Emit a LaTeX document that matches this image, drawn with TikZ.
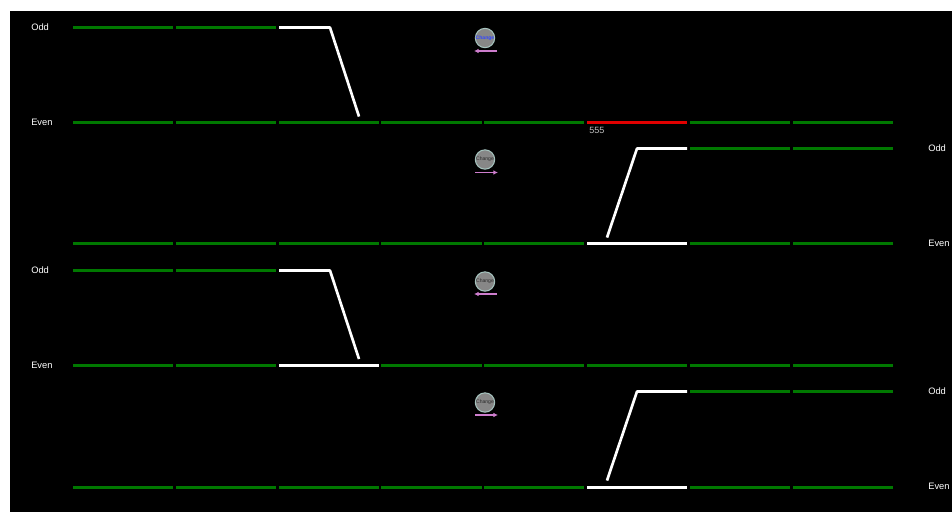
\documentclass[tikz,border=0pt]{standalone}
\usepackage{fontspec}
\setmainfont{Liberation Sans}
\usetikzlibrary{arrows.meta}
\definecolor{trackgreen}{RGB}{0,120,0}
\definecolor{trackred}{RGB}{225,0,0}
\definecolor{pinkarrow}{RGB}{205,125,205}
\definecolor{ringcol}{RGB}{165,195,190}
\definecolor{discfill}{RGB}{135,135,135}
\definecolor{changeblue}{RGB}{50,70,255}
\definecolor{labelgrey}{RGB}{190,190,190}
\tikzset{
  x=0.75pt,y=-0.75pt,
  greentrack/.style={draw=trackgreen,line width=2pt},
  whitetrack/.style={draw=white,line width=2pt},
  redtrack/.style={draw=trackred,line width=2pt},
  sidelabel/.style={text=white,font=\fontsize{7}{8}\selectfont,inner sep=0pt,anchor=west},
  changedisc/.style={circle,draw=ringcol,line width=0.8pt,fill=discfill,minimum size=14.5pt,inner sep=0pt,font=\fontsize{3.8}{4}\selectfont},
  movearrow/.style={draw=pinkarrow,line width=1.1pt,-{Latex[length=3.5pt,width=3.5pt]}},
}
\begin{document}
\begin{tikzpicture}
\useasboundingbox (0,0) rectangle (952,512);
\fill[white] (0,0) rectangle (952,512);
\fill[black] (10,11) rectangle (952,512);
% Row 1
\foreach \a/\b in {73/173,176/276} \draw[greentrack] (\a,27.5) -- (\b,27.5);
\foreach \a/\b in {73/173,176/276,279/379,381/482,484/584,690/790,793/893} \draw[greentrack] (\a,122.5) -- (\b,122.5);
\draw[redtrack] (587,122.5) -- (687,122.5);
\draw[whitetrack,line join=round] (279,27.5) -- (330,27.5) -- (359,116.5);
% Row 2
\foreach \a/\b in {690/790,793/893} \draw[greentrack] (\a,148.5) -- (\b,148.5);
\foreach \a/\b in {73/173,176/276,279/379,381/482,484/584,690/790,793/893} \draw[greentrack] (\a,243.5) -- (\b,243.5);
\draw[whitetrack] (587,243.5) -- (687,243.5);
\draw[whitetrack,line join=round] (687,148.5) -- (637,148.5) -- (607,237.5);
% Row 3
\foreach \a/\b in {73/173,176/276} \draw[greentrack] (\a,270.5) -- (\b,270.5);
\foreach \a/\b in {73/173,176/276,381/482,484/584,587/687,690/790,793/893} \draw[greentrack] (\a,365.5) -- (\b,365.5);
\draw[whitetrack] (279,365.5) -- (379,365.5);
\draw[whitetrack,line join=round] (279,270.5) -- (330,270.5) -- (359,359);
% Row 4
\foreach \a/\b in {690/790,793/893} \draw[greentrack] (\a,391.5) -- (\b,391.5);
\foreach \a/\b in {73/173,176/276,279/379,381/482,484/584,690/790,793/893} \draw[greentrack] (\a,487.5) -- (\b,487.5);
\draw[whitetrack] (587,487.5) -- (687,487.5);
\draw[whitetrack,line join=round] (687,391.5) -- (637,391.5) -- (607,480.5);
% labels
\node[sidelabel] (oddA) at (31,27) {Odd};
\node[sidelabel] (evenA) at (31,122) {Even};
\node[sidelabel] (oddB) at (928,148) {Odd};
\node[sidelabel] (evenB) at (928,243.5) {Even};
\node[sidelabel] (oddC) at (31,270) {Odd};
\node[sidelabel] (evenC) at (31,365) {Even};
\node[sidelabel] (oddD) at (928,391) {Odd};
\node[sidelabel] (evenD) at (928,486.5) {Even};
\node[text=labelgrey,font=\fontsize{6.8}{8}\selectfont,inner sep=0pt,anchor=west] (num) at (589,130) {555};
% change discs
\node[changedisc,text=changeblue] (chA) at (485,38) {\bfseries Change};
\node[changedisc,text=black!70!discfill] (chB) at (485,159.5) {Change};
\node[changedisc,text=black!70!discfill] (chC) at (485,281.5) {Change};
\node[changedisc,text=black!70!discfill] (chD) at (485,402.5) {Change};
% arrows
\coordinate (aL) at (497,51); \coordinate (aR) at (474,51);
\draw[movearrow] (aL) -- (aR);
\coordinate (bL) at (475,172.5); \coordinate (bR) at (498,172.5);
\draw[movearrow] (bL) -- (bR);
\coordinate (cL) at (497,294); \coordinate (cR) at (474,294);
\draw[movearrow] (cL) -- (cR);
\coordinate (dL) at (475,415); \coordinate (dR) at (498,415);
\draw[movearrow] (dL) -- (dR);
\end{tikzpicture}
\end{document}
